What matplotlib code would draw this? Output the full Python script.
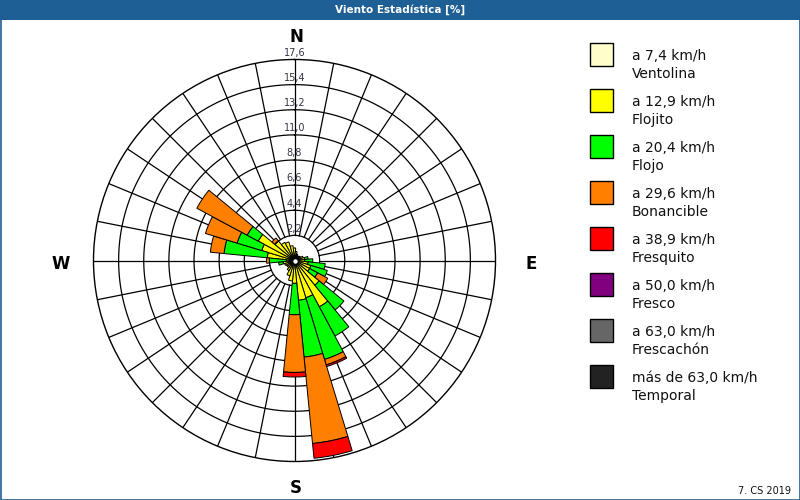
import numpy as np
import matplotlib.pyplot as plt
from matplotlib.patches import Rectangle

# 32 sectors, 0 = North, clockwise
directions = np.arange(32) * 11.25

# frequency [%] per speed class and sector (not cumulative)
ventolina = [0.25, 0.2, 0.2, 0.15, 0.15, 0.2, 0.2, 0.2, 0.2, 0.2, 0.2, 0.2, 0.2, 0.25, 0.25, 0.25,
             0.2, 0.2, 0.2, 0.15, 0.15, 0.15, 0.15, 0.2, 0.2, 0.2, 0.2, 0.25, 0.2, 0.2, 0.2, 0.2]
flojito = [0.85, 0.6, 0.4, 0.35, 0.35, 0.4, 0.6, 0.7, 0.7, 1.0, 1.3, 1.3, 2.6, 4.35, 3.15, 3.25,
           1.8, 1.6, 1.2, 0.85, 0.65, 0.65, 0.75, 0.8, 0.5, 2.2, 2.8, 3.35, 2.0, 1.6, 1.5, 1.1]
flojo = [0, 0, 0, 0, 0, 0, 0, 0.3, 0.7, 1.5, 1.5, 0.8, 2.8, 2.9, 5.65, 5.0,
         2.75, 0, 0, 0, 0, 0, 0, 0.4, 1.5, 3.8, 2.25, 1.1, 0.05, 0, 0, 0]
bonancible = [0, 0, 0, 0, 0, 0, 0, 0, 0, 0, 0, 1.0, 0, 0, 0.5, 7.6,
              5.05, 0, 0, 0, 0, 0, 0, 0, 0.25, 1.2, 2.9, 5.0, 0.3, 0, 0, 0]
fresquito = [0, 0, 0, 0, 0, 0, 0, 0, 0, 0, 0, 0, 0, 0, 0.15, 1.3,
             0.4, 0, 0, 0, 0, 0, 0, 0, 0, 0, 0, 0, 0, 0, 0, 0]
fresco = [0] * 32
frescachon = [0] * 32
temporal = [0] * 32

speed_labels = ["a 7,4 km/h", "a 12,9 km/h", "a 20,4 km/h", "a 29,6 km/h",
                "a 38,9 km/h", "a 50,0 km/h", "a 63,0 km/h", "más de 63,0 km/h"]
class_names = ["Ventolina", "Flojito", "Flojo", "Bonancible",
               "Fresquito", "Fresco", "Frescachón", "Temporal"]
colors = ["#ffffcc", "#ffff00", "#00ff00", "#ff8000",
          "#ff0000", "#800080", "#666666", "#222222"]

rings = [2.2, 4.4, 6.6, 8.8, 11.0, 13.2, 15.4, 17.6]
ring_labels = ["2,2", "4,4", "6,6", "8,8", "11,0", "13,2", "15,4", "17,6"]

W, H = 800, 500
fig = plt.figure(figsize=(8, 5), dpi=100)
fig.patch.set_facecolor("white")

# polar area: centre (294.5, 260.5) px, radius 201 px
cx, cy, R = 294.5, 260.5, 201
ax = fig.add_axes([(cx - R) / W, (H - cy - R) / H, 2 * R / W, 2 * R / H], projection="polar")
ax.set_theta_zero_location("N")
ax.set_theta_direction(-1)
ax.set_ylim(0, 17.6)
ax.set_xticks([])
ax.set_yticks([])
ax.grid(False)
ax.spines["polar"].set_linewidth(1.0)

th = np.radians(directions)
full = np.linspace(0, 2 * np.pi, 400)
for r in rings[:-1]:
    ax.plot(full, [r] * len(full), color="black", lw=0.9, zorder=1)
for t in th:
    ax.plot([t, t], [rings[0], rings[-1]], color="black", lw=0.9, zorder=1)

series = [ventolina, flojito, flojo, bonancible, fresquito, fresco, frescachon, temporal]
bottom = np.zeros(32)
width = 2 * np.pi / 32
for vals, col in zip(series, colors):
    vals = np.array(vals, dtype=float)
    mask = vals > 0
    if mask.any():
        ax.bar(th[mask], vals[mask], width=width, bottom=bottom[mask], color=col,
               edgecolor="black", linewidth=0.7, zorder=3)
    bottom += vals

# little calm circle in the middle
ax.plot([0], [0], marker="o", ms=4, mfc="white", mec="black", mew=0.8, zorder=6)

for r, lab in zip(rings, ring_labels):
    ax.text(0, r + 0.15, lab, ha="center", va="bottom", fontsize=7,
            color="#333344", zorder=5)

# compass letters
for lab, x, y in [("N", 296, 37), ("S", 296, 488), ("W", 61, 264), ("E", 531, 264)]:
    fig.text(x / W, 1 - y / H, lab, ha="center", va="center", fontsize=12,
             fontweight="bold", color="black")

# title band
band = "#1e5f95"
fig.patches.append(Rectangle((0, 1 - 20 / H), 1, 20 / H, transform=fig.transFigure,
                             facecolor=band, edgecolor="none", zorder=0))
fig.patches.append(Rectangle((0.5 / W, 0.5 / H), 1 - 1 / W, 1 - 1 / H, transform=fig.transFigure,
                             fill=False, edgecolor=band, linewidth=1.2, zorder=10))
fig.text(0.5, 1 - 10 / H, "Viento Estadística [%]", ha="center", va="center",
         color="white", fontsize=7.5, fontweight="bold",
         family=["Liberation Sans Narrow", "DejaVu Sans"])

# legend
for k in range(8):
    top = 43 + 46 * k
    fig.patches.append(Rectangle((590 / W, 1 - (top + 23) / H), 23 / W, 23 / H,
                                 transform=fig.transFigure, facecolor=colors[k],
                                 edgecolor="black", linewidth=1.0))
    fig.text(632 / W, 1 - (top + 13) / H, speed_labels[k], ha="left", va="center",
             fontsize=10, color="#111111")
    fig.text(632 / W, 1 - (top + 31) / H, class_names[k], ha="left", va="center",
             fontsize=10, color="#111111")

fig.text(791 / W, 1 - 491 / H, "7. CS 2019", ha="right", va="center", fontsize=7,
         color="#111111")

fig.savefig("out.png", dpi=100)
